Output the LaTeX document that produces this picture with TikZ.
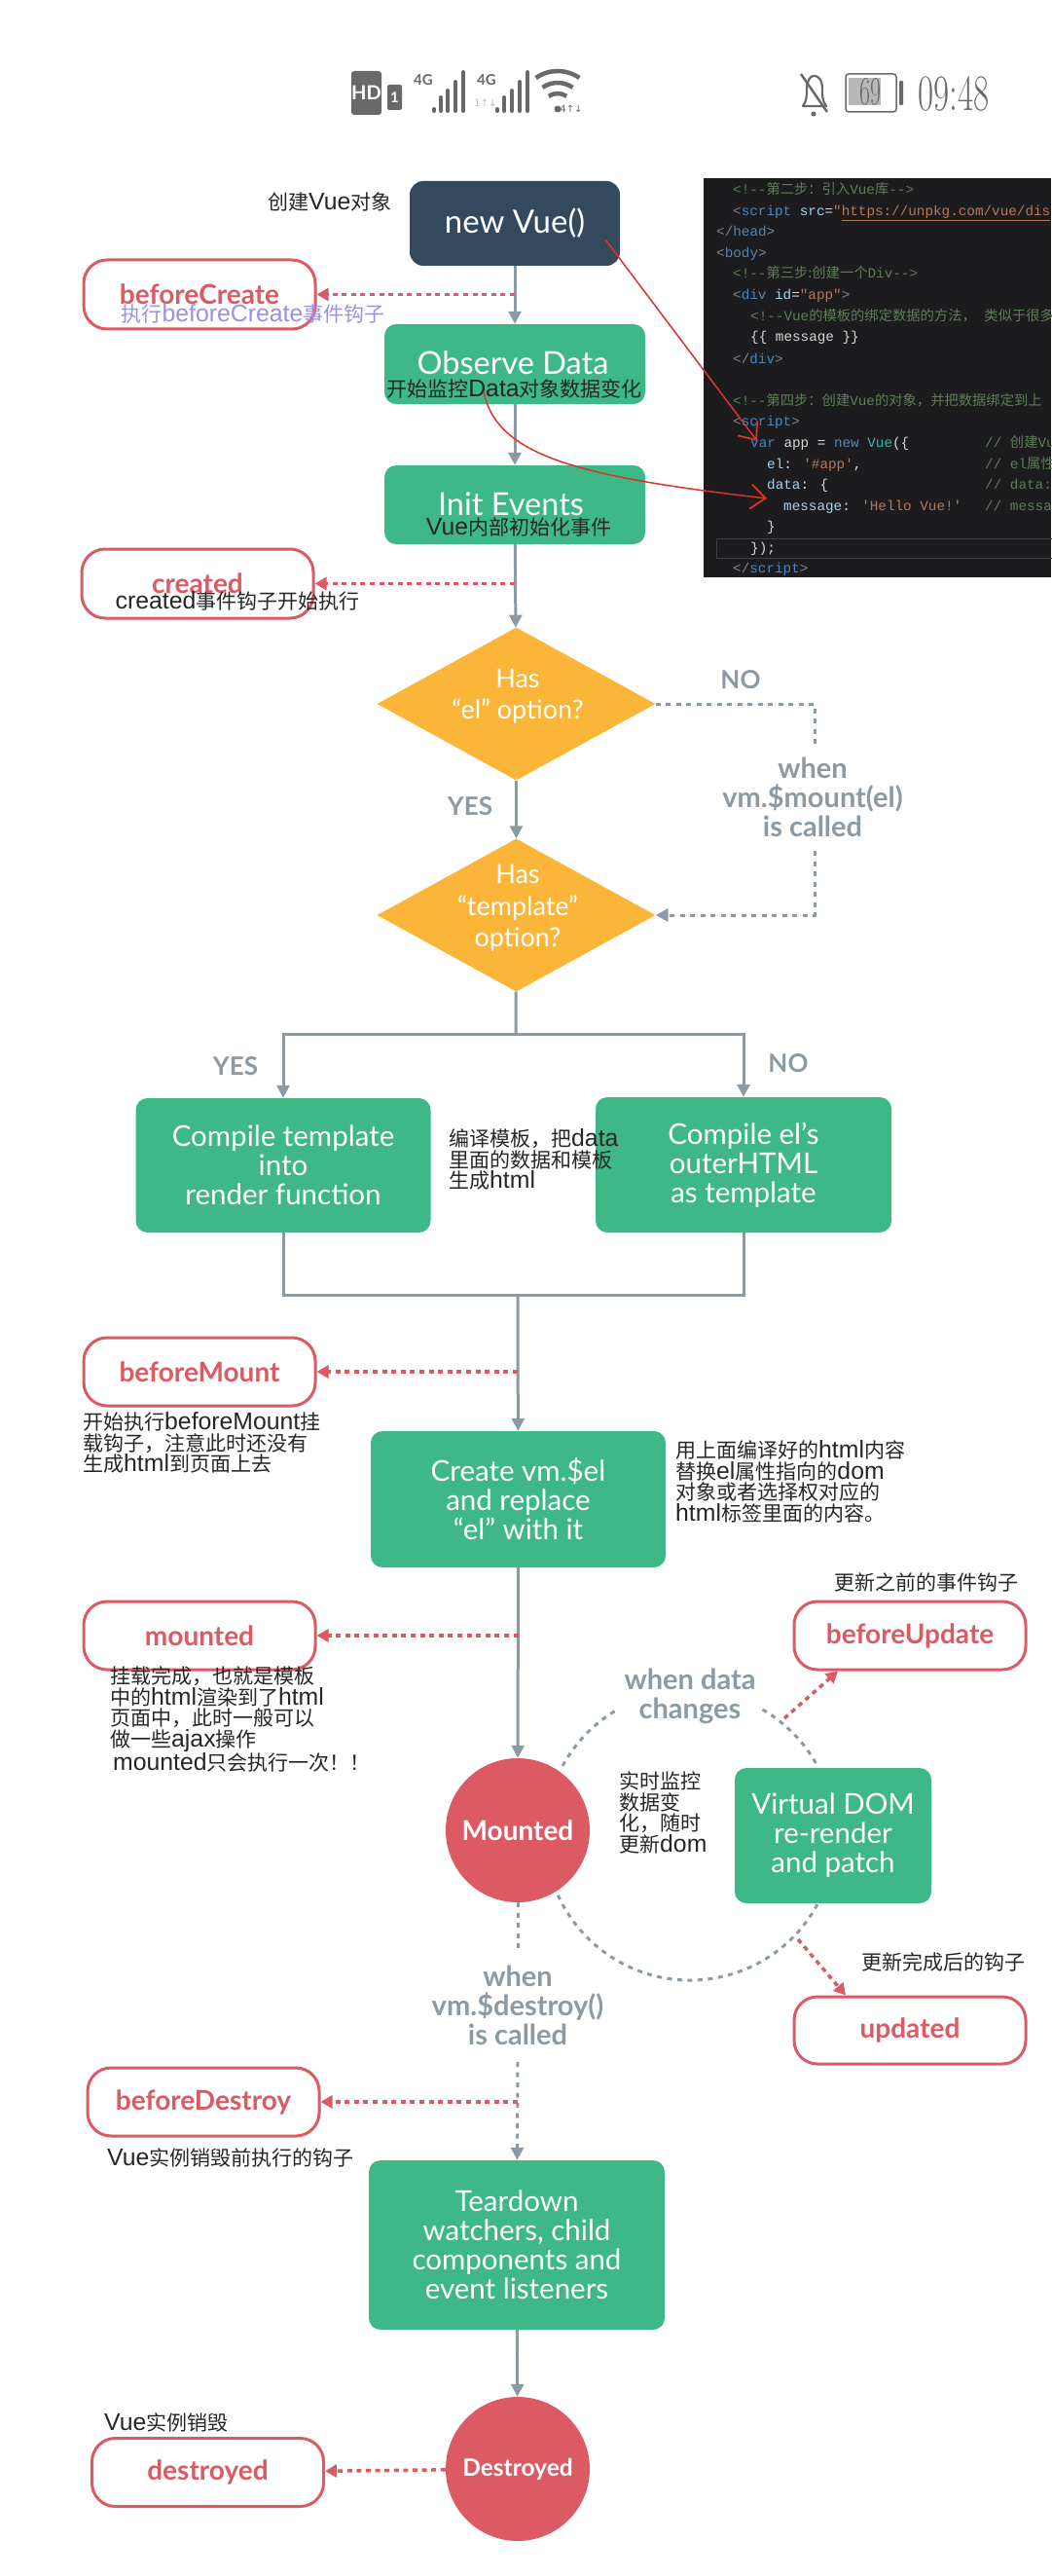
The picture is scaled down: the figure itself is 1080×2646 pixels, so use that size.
\documentclass[tikz,border=0pt]{standalone}
\usepackage{fontspec}
\setmainfont{Lato}
\newfontfamily\cjk{Noto Sans CJK SC}
\newfontfamily\latinfont[Scale=1.18]{Liberation Sans}
\newfontfamily\codefont{Liberation Mono}
\newfontfamily\symfont{DejaVu Sans}
\usetikzlibrary{arrows.meta,shapes.geometric}
\definecolor{vuegreen}{HTML}{3DB886}
\definecolor{vuedark}{HTML}{35495E}
\definecolor{vuered}{HTML}{DC5A64}
\definecolor{vueorange}{HTML}{FBB539}
\definecolor{flowgray}{HTML}{8C9BA3}
\definecolor{notelilac}{HTML}{9C90E6}
\definecolor{inkred}{HTML}{D8352B}
\definecolor{statusgray}{HTML}{696969}
\definecolor{codebg}{HTML}{1C1C1F}
\definecolor{codecomment}{HTML}{5E7D56}
\definecolor{codetag}{HTML}{7F8489}
\definecolor{codeblue}{HTML}{4A87C0}
\definecolor{codeattr}{HTML}{A6D3EA}
\definecolor{codestring}{HTML}{B5785A}
\definecolor{codeplain}{HTML}{D8D8D8}
\definecolor{codetype}{HTML}{3CB8A0}
\newcommand{\zh}[1]{{\cjk #1}}
\newcommand{\lat}[1]{{\latinfont #1}}
\newcommand{\cmt}[1]{\textcolor{codecomment}{#1}}
\newcommand{\tg}[1]{\textcolor{codetag}{#1}}
\newcommand{\bl}[1]{\textcolor{codeblue}{#1}}
\newcommand{\st}[1]{\textcolor{codestring}{#1}}
\newcommand{\at}[1]{\textcolor{codeattr}{#1}}
\newcommand{\fwcomma}{\symbol{"FF0C}}
\newcommand{\fwbang}{\symbol{"FF01}}
\newcommand{\fwcolon}{\symbol{"FF1A}}
\tikzset{
  greenbox/.style={rectangle,rounded corners=12pt,fill=vuegreen,text=white,inner sep=0pt,align=center,font=\fontsize{29.5}{30}\selectfont},
  greentitle/.style={inner sep=0pt,text=white,font=\fontsize{32.5}{33}\selectfont},
  hookbox/.style={rectangle,rounded corners=24pt,fill=white,draw=vuered,line width=3pt,minimum width=238pt,minimum height=70pt,text=vuered,font=\bfseries\fontsize{28}{30}\selectfont},
  hooktitle/.style={inner sep=0pt,text=vuered,font=\bfseries\fontsize{28}{30}\selectfont},
  choice/.style={diamond,aspect=1.83,fill=vueorange,minimum width=286pt,minimum height=157pt,inner sep=0pt},
  choicetext/.style={text=white,align=center,inner sep=0pt,font=\fontsize{27}{32.5}\selectfont},
  endcircle/.style={circle,fill=vuered,minimum size=148pt,inner sep=0pt,text=white,font=\bfseries},
  graytext/.style={text=flowgray,align=center,inner sep=0pt,font=\bfseries\fontsize{29}{30}\selectfont},
  answertext/.style={text=flowgray,inner sep=0pt,font=\bfseries\fontsize{26}{30}\selectfont},
  notetext/.style={text=black!85,align=left,inner sep=0pt,anchor=west,font=\cjk\fontsize{21}{21.5}\selectfont},
  overnote/.style={inner sep=0pt,text=black!85,font=\cjk\fontsize{21}{21.5}\selectfont},
  codeline/.style={anchor=west,inner sep=0pt,text height=12pt,text depth=4pt,text=codeplain,font=\codefont\fontsize{14.3}{18}\selectfont},
  flow/.style={draw=flowgray,line width=3pt,-{Triangle[length=13pt,width=13pt]}},
  pipe/.style={draw=flowgray,line width=3pt},
  hookflow/.style={draw=vuered,line width=3.5pt,dash pattern=on 5pt off 4.6pt,-{Triangle[length=12pt,width=13pt]}},
  loopline/.style={draw=flowgray,line width=3pt,dash pattern=on 5pt off 5.5pt},
  loopflow/.style={loopline,-{Triangle[length=13pt,width=13pt]}},
  inkflow/.style={draw=inkred,line width=1.5pt,-{Straight Barb[length=15pt,width=25pt,line width=1.8pt]}},
  signal/.style={draw=statusgray,line width=4pt,line cap=round},
}
\begin{document}
\begin{tikzpicture}[x=1pt,y=-1pt,>=Stealth]
\useasboundingbox (0,0) rectangle (1080,2646);
\fill[white] (0,0) rectangle (1080,2646);
\fill[statusgray,rounded corners=3pt] (361,73) rectangle (392,118);
\node[text=white,inner sep=0pt,font=\bfseries\fontsize{20}{20}\selectfont] (hdmark) at (376.5,95) {HD};
\fill[statusgray,rounded corners=2pt] (398,87) rectangle (413,113);
\node[text=white,inner sep=0pt,font=\bfseries\fontsize{15}{15}\selectfont] (simmark) at (405.5,100) {1};
\node[text=statusgray,inner sep=0pt,font=\bfseries\fontsize{15}{15}\selectfont] (fourgA) at (435,82) {4G};
\draw[signal] (446,114)--(446,112) (453,114)--(453,100) (460,114)--(460,93) (468,114)--(468,84) (476,114)--(476,74);
\node[text=statusgray,inner sep=0pt,font=\bfseries\fontsize{15}{15}\selectfont] (fourgB) at (500,82) {4G};
\node[text=black!25,inner sep=0pt,font=\symfont\fontsize{10}{10}\selectfont] (trafficA) at (499,106) {1↑↓};
\draw[signal] (511,114)--(511,112) (518,114)--(518,100) (526,114)--(526,93) (534,114)--(534,84) (542,114)--(542,74);
\fill[statusgray] (573,112) circle (3.5);
\draw[statusgray,line width=4.5pt] ([shift={(573,112)}]-125:39) arc (-125:-55:39);
\draw[statusgray,line width=4.5pt] ([shift={(573,112)}]-125:27) arc (-125:-55:27);
\draw[statusgray,line width=4.5pt] ([shift={(573,112)}]-125:16) arc (-125:-55:16);
\node[text=statusgray,inner sep=0pt,font=\symfont\fontsize{10}{10}\selectfont] (trafficB) at (587,112) {4↑↓};
\draw[statusgray,line width=2.2pt,line join=round] (825,109) .. controls (829,104) and (829,98) .. (829,92) .. controls (829,84) and (832,78) .. (836,78) .. controls (843,78) and (845,84) .. (845,92) .. controls (845,98) and (845,104) .. (849,109) -- cycle;
\draw[statusgray,line width=2.5pt] (823,76) -- (850,115);
\fill[statusgray] (836,117) circle (2.5);
\fill[black!28] (872,80) rectangle (905,108);
\draw[statusgray,line width=1.5pt,rounded corners=3pt] (869,76) rectangle (921,115);
\fill[statusgray,rounded corners=1pt] (924,83) rectangle (928,108);
\node[text=statusgray,inner sep=0pt,font=\rmfamily\fontsize{24}{24}\selectfont] (battery) at (894.5,94) {\scalebox{1}[1.7]{\fontspec{Latin Modern Roman}69}};
\node[text=statusgray,inner sep=0pt,font=\fontsize{35}{35}\selectfont] (clock) at (980,96) {\scalebox{1}[1.5]{\fontspec{Latin Modern Roman}09:48}};
\fill[codebg] (723,183) rectangle (1080,593);
\draw[white!16!codebg,line width=1pt] (1081,553) -- (736,553) -- (736,573) -- (1081,573);
\node[codeline] (code0) at (753,196) {\cmt{<!-{}-\zh{第二步\fwcolon{}引入}Vue\zh{库}-{}->}};
\node[codeline] (code1) at (753,218) {\tg{<}\bl{script} \at{src}=\st{"\underline{https://unpkg.com/vue/dis}}};
\node[codeline] (code2) at (736,239) {\tg{</}\bl{head}\tg{>}};
\node[codeline] (code3) at (736,261) {\tg{<}\bl{body}\tg{>}};
\node[codeline] (code4) at (753,282) {\cmt{<!-{}-\zh{第三步:创建一个}Div-{}->}};
\node[codeline] (code5) at (753,304) {\tg{<}\bl{div} \at{id}=\st{"app"}\tg{>}};
\node[codeline] (code6) at (771,326) {\cmt{<!-{}-Vue\zh{的模板的绑定数据的方法\fwcomma{}} \zh{类似于很多}}};
\node[codeline] (code7) at (771,347) {\{\{ message \}\}};
\node[codeline] (code8) at (753,369) {\tg{</}\bl{div}\tg{>}};
\node[codeline] (code9) at (753,412) {\cmt{<!-{}-\zh{第四步\fwcolon{}创建}Vue\zh{的对象\fwcomma{}并把数据绑定到上}}};
\node[codeline] (code10) at (753,433) {\tg{<}\bl{script}\tg{>}};
\node[codeline] (code11) at (771,455) {\bl{var} app = \bl{new} \textcolor{codetype}{Vue}(\{};
\node[codeline] (code12) at (788,477) {\at{el}: \st{'\#app'},};
\node[codeline] (code13) at (788,498) {\at{data}: \{};
\node[codeline] (code14) at (805,520) {\at{message}: \st{'Hello Vue!'}};
\node[codeline] (code15) at (788,541) {\}};
\node[codeline] (code16) at (771,563) {\});};
\node[codeline] (code17) at (753,584) {\tg{</}\bl{script}\tg{>}};
\node[codeline] (comment11) at (1012,455) {\cmt{// \zh{创建}Vu}};
\node[codeline] (comment12) at (1012,477) {\cmt{// el\zh{属性}}};
\node[codeline] (comment13) at (1012,498) {\cmt{// data:}};
\node[codeline] (comment14) at (1012,520) {\cmt{// messa}};
\node[rectangle,rounded corners=14pt,fill=vuedark,text=white,minimum width=216pt,minimum height=87pt,inner sep=0pt,font=\fontsize{33}{33}\selectfont] (vue) at (529,229.5) {new Vue()};
\node[greenbox,minimum width=268pt,minimum height=82pt] (observe) at (529,374) {};
\node[greentitle] (observeT) at (527,373) {Observe Data};
\node[overnote] (observeN) at (528.5,399) {开始监控\lat{Data}对象数据变化};
\node[greenbox,minimum width=268pt,minimum height=81pt] (init) at (529,518.5) {};
\node[greentitle] (initT) at (525,518) {Init Events};
\node[overnote] (initN) at (533,542) {\lat{Vue}内部初始化事件};
\node[hookbox,minimum height=71pt] (beforeCreate) at (205,302.5) {};
\node[hooktitle] (beforeCreateT) at (205,302) {beforeCreate};
\node[overnote,text=notelilac] (beforeCreateN) at (260,322) {执行\lat{beforeCreate}事件钩子};
\node[hookbox,minimum height=71pt] (created) at (203,599.5) {};
\node[hooktitle] (createdT) at (203,599) {created};
\node[overnote] (createdN) at (244,617) {\lat{created}事件钩子开始执行};
\node[notetext] (vueN) at (275,207) {创建\lat{Vue}对象};
\node[choice] (hasEl) at (530.5,723) {};
\node[choicetext] (hasElT) at (532,715) {Has\\“el” option?};
\node[choice] (hasTpl) at (530.5,940) {};
\node[choicetext] (hasTplT) at (532,933) {Has\\“template”\\option?};
\node[answertext] (noA) at (761,698) {NO};
\node[answertext] (yesA) at (483,828) {YES};
\node[graytext] (mountT) at (835,819) {when\\vm.\$mount(el)\\is called};
\node[answertext] (yesB) at (242,1095) {YES};
\node[answertext] (noB) at (810,1092) {NO};
\node[greenbox,minimum width=303pt,minimum height=138pt] (compileT) at (291,1197) {Compile template\\into\\render function};
\node[greenbox,minimum width=304pt,minimum height=139pt] (compileE) at (764,1196.5) {Compile el’s\\outerHTML\\as template};
\node[notetext] (compileN) at (461,1191) {编译模板\fwcomma{}把\lat{data}\\里面的数据和模板\\生成\lat{html}};
\node[hookbox] (beforeMount) at (205,1409) {beforeMount};
\node[notetext] (beforeMountN) at (85,1482) {开始执行\lat{beforeMount}挂\\载钩子\fwcomma{}注意此时还没有\\生成\lat{html}到页面上去};
\node[greenbox,minimum width=303pt,minimum height=140pt] (createEl) at (532.5,1540) {Create vm.\$el\\and replace\\“el” with it};
\node[notetext] (createElN) at (694,1522) {用上面编译好的\lat{html}内容\\替换\lat{el}属性指向的\lat{dom}\\对象或者选择权对应的\\\lat{html}标签里面的内容。};
\node[hookbox] (mounted) at (205,1680) {mounted};
\node[notetext] (mountedN) at (113,1766) {挂载完成\fwcomma{}也就是模板\\中的\lat{html}渲染到了\lat{html}\\页面中\fwcomma{}此时一般可以\\做一些\lat{ajax}操作\\\hspace*{3pt}\lat{mounted}只会执行一次\fwbang\fwbang};
\node[hookbox] (beforeUpdate) at (935,1680) {beforeUpdate};
\node[notetext] (beforeUpdateN) at (857,1625) {更新之前的事件钩子};
\node[graytext] (dataT) at (709,1742) {when data\\changes};
\node[endcircle,font=\bfseries\fontsize{28}{28}\selectfont] (mountedC) at (532,1880) {Mounted};
\node[notetext] (mountedCN) at (636,1862) {实时监控\\数据变\\化\fwcomma{}随时\\更新\lat{dom}};
\node[greenbox,minimum width=202pt,minimum height=139pt] (patch) at (856,1885.5) {Virtual DOM\\re-render\\and patch};
\node[hookbox,minimum height=69pt] (updated) at (935,2085.5) {updated};
\node[notetext] (updatedN) at (885,2015) {更新完成后的钩子};
\node[graytext] (destroyT) at (532,2060) {when\\vm.\$destroy()\\is called};
\node[hookbox] (beforeDestroy) at (209,2159) {beforeDestroy};
\node[notetext] (beforeDestroyN) at (110,2216) {\lat{Vue}实例销毁前执行的钩子};
\node[greenbox,minimum width=304pt,minimum height=174pt] (teardown) at (531,2306) {Teardown\\watchers, child\\components and\\event listeners};
\node[endcircle,font=\bfseries\fontsize{24.5}{25}\selectfont] (destroyedC) at (532,2536) {Destroyed};
\node[hookbox] (destroyed) at (213.5,2539.5) {destroyed};
\node[notetext] (destroyedN) at (107,2488) {\lat{Vue}实例销毁};
\coordinate (splitC) at (530,1062);
\coordinate (mergeC) at (532,1330);
\coordinate (mountA) at (837,767);
\coordinate (mountB) at (837,874);
\coordinate (destroyA) at (532,2003);
\coordinate (destroyB) at (532,2118);
\coordinate (loopC) at (709,1885);
\coordinate (updateA) at (806,1765);
\coordinate (updateB) at (820,1992);
\coordinate (inkA) at (622,246);
\coordinate (inkB) at (778,453);
\coordinate (inkC) at (497,402);
\coordinate (inkD) at (788,512);
\draw[flow] (vue) -- (observe);
\draw[flow] (observe) -- (init);
\draw[flow] (init) -- (hasEl);
\draw[flow] (hasEl) -- (hasTpl);
\draw[pipe] (hasTpl) -- (splitC);
\draw[flow] (splitC) -| (compileT);
\draw[flow] (splitC) -| (compileE);
\draw[pipe] (compileT) |- (mergeC);
\draw[pipe] (compileE) |- (mergeC);
\draw[flow] (mergeC) -- (createEl);
\draw[flow] (createEl) -- (mountedC);
\draw[flow] (teardown) -- (destroyedC);
\draw[loopline] (hasEl.east) -| (mountA);
\draw[loopflow] (mountB) |- (hasTpl.east);
\draw[loopline] (mountedC) -- (destroyA);
\draw[loopflow] (destroyB) -- (teardown);
\draw[loopline] ([shift={(loopC)}]-151.5:149) arc (-151.5:-120:149);
\draw[loopline] ([shift={(loopC)}]-60:149) arc (-60:-28.5:149);
\draw[loopline] ([shift={(loopC)}]28.5:149) arc (28.5:155.5:149);
\draw[hookflow] (beforeCreate -| vue) -- (beforeCreate);
\draw[hookflow] (created -| vue) -- (created);
\draw[hookflow] (beforeMount -| mergeC) -- (beforeMount);
\draw[hookflow] (mounted -| createEl) -- (mounted);
\draw[hookflow] (beforeDestroy -| destroyB) -- (beforeDestroy);
\draw[hookflow] (destroyedC) -- (destroyed);
\draw[hookflow] (updateA) -- ([xshift=-74pt]beforeUpdate.south);
\draw[hookflow] (updateB) -- ([xshift=-66pt]updated.north);
\draw[inkflow] (inkA) -- (inkB);
\draw[inkflow] (inkC) .. controls (510,470) and (600,490) .. (inkD);
\end{tikzpicture}
\end{document}
